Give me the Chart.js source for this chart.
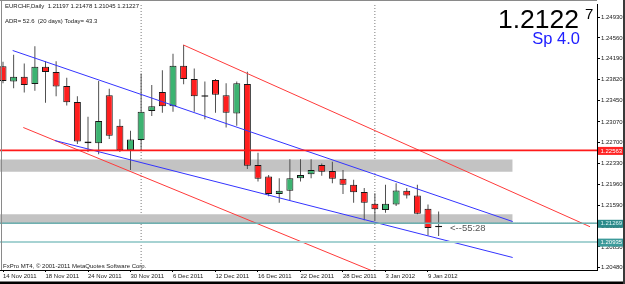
<!DOCTYPE html>
<html><head><meta charset="utf-8">
<script src="https://cdn.jsdelivr.net/npm/chart.js@4.4.1/dist/chart.umd.min.js"></script>
<style>html,body{margin:0;padding:0;background:#fff;}canvas{display:block;}</style>
</head><body>
<canvas id="c" width="625" height="284"></canvas>
<script>
// ---------------- data ----------------
const symbolName = 'EURCHF,Daily';
const dates = ['14 Nov 2011','15 Nov 2011','16 Nov 2011','17 Nov 2011','18 Nov 2011','21 Nov 2011','22 Nov 2011','23 Nov 2011','24 Nov 2011','25 Nov 2011','28 Nov 2011','29 Nov 2011','30 Nov 2011','1 Dec 2011','2 Dec 2011','5 Dec 2011','6 Dec 2011','7 Dec 2011','8 Dec 2011','9 Dec 2011','12 Dec 2011','13 Dec 2011','14 Dec 2011','15 Dec 2011','16 Dec 2011','19 Dec 2011','20 Dec 2011','21 Dec 2011','22 Dec 2011','23 Dec 2011','26 Dec 2011','27 Dec 2011','28 Dec 2011','29 Dec 2011','30 Dec 2011','2 Jan 2012','3 Jan 2012','4 Jan 2012','5 Jan 2012','6 Jan 2012','9 Jan 2012','10 Jan 2012'];
const opens  = [1.24057,1.23785,1.23872,1.23743,1.24047,1.23953,1.23708,1.23424,1.22721,1.22691,1.23541,1.23000,1.22564,1.22749,1.23262,1.23599,1.23349,1.24064,1.23831,1.23517,1.23813,1.23541,1.23220,1.23743,1.22302,1.22098,1.21789,1.21848,1.22068,1.22138,1.22302,1.22197,1.22058,1.21953,1.21824,1.21614,1.21504,1.21604,1.21848,1.21761,1.21527,1.21197];
const highs  = [1.24139,1.24262,1.24105,1.24413,1.24145,1.24145,1.23855,1.23523,1.23162,1.23796,1.23656,1.23115,1.22913,1.23930,1.23726,1.23988,1.24279,1.24436,1.24017,1.23785,1.23831,1.23756,1.23785,1.23960,1.22522,1.22127,1.22068,1.22407,1.22407,1.22407,1.22330,1.22360,1.22215,1.22040,1.21894,1.21801,1.21953,1.21981,1.21894,1.21953,1.21604,1.21478];
const lows   = [1.23756,1.23668,1.23593,1.23621,1.23407,1.23523,1.23359,1.22679,1.22534,1.22494,1.22766,1.22534,1.22215,1.22569,1.23174,1.23232,1.23250,1.23738,1.23250,1.23115,1.23232,1.22970,1.23000,1.22232,1.22010,1.21749,1.21632,1.21674,1.22010,1.22068,1.22115,1.21981,1.21789,1.21632,1.21325,1.21312,1.21457,1.21574,1.21709,1.21429,1.21051,1.21045];
const closes = [1.23796,1.23872,1.23726,1.24047,1.23953,1.23698,1.23419,1.22721,1.22691,1.23087,1.22825,1.22564,1.22756,1.23250,1.23349,1.23349,1.24064,1.23831,1.23523,1.23541,1.23551,1.23232,1.23756,1.22290,1.22058,1.21789,1.21848,1.22068,1.22127,1.22215,1.22185,1.22058,1.21953,1.21819,1.21632,1.21517,1.21614,1.21853,1.21761,1.21440,1.21185,1.21227];
const xTickIdx = [0,4,8,12,16,20,24,28,32,36,40];
const yTicks = [1.2493,1.2456,1.2419,1.2382,1.2345,1.2307,1.2270,1.2233,1.2196,1.2159,1.2122,1.2085,1.2048];
const xRange = [-0.2824, 55.906];
const yRange = [1.204399, 1.251516];
const separators = [13, 35];
const levelRed = 1.22563;
const levelTeal = 1.21269;
const levelLight = 1.20935;
const zoneUpper = [1.22403, 1.22185];
const zoneLower = [1.21429, 1.21265];
const zoneEnd = 47.97;
const blueUpper = [[0.91, 1.24337], [47.97, 1.21300]];
const blueLower = [[4.89, 1.22738], [47.97, 1.20662]];
const redUpper  = [[16.97, 1.24436], [55.25, 1.21208]];
const redLower  = [[1.91, 1.22970], [40, 1.20018]];
const adr = 52.6, adrDays = 20, adrToday = 43.3;
const spread = '4.0';
const countdown = '55:28';

// ---------------- chart ----------------
const FONT = '"Liberation Sans", Arial, sans-serif';
Chart.defaults.font.family = FONT;
const pts = a => a.map(p => ({x: p[0], y: p[1]}));
const hline = v => [{x: xRange[0] - 1, y: v}, {x: xRange[1] + 1, y: v}];
const lineDs = (data, color, width, extra) => Object.assign({
  type: 'line', data, borderColor: color, borderWidth: width, pointRadius: 0,
  fill: false, tension: 0, order: 0
}, extra || {});

const bodyColors = opens.map((o, i) => closes[i] >= o ? '#3cb371' : '#ff1e1e');

const datasets = [
  { type: 'bar', label: 'body', data: dates.map((d, i) => ({x: i, y: [opens[i], closes[i]]})),
    backgroundColor: bodyColors, borderColor: '#161616', borderWidth: 1, borderSkipped: false,
    grouped: false, maxBarThickness: 7, minBarLength: 1, order: 1 },
  { type: 'bar', label: 'wick', data: dates.map((d, i) => ({x: i, y: [lows[i], highs[i]]})),
    backgroundColor: '#505050', borderWidth: 0, grouped: false, maxBarThickness: 1, order: 2 },
  lineDs([{x: xRange[0] - 1, y: zoneUpper[0]}, {x: zoneEnd, y: zoneUpper[0]}], 'rgba(0,0,0,0)', 0, {order: 10}),
  lineDs([{x: xRange[0] - 1, y: zoneUpper[1]}, {x: zoneEnd, y: zoneUpper[1]}], 'rgba(0,0,0,0)', 0, {order: 10, fill: '-1', backgroundColor: '#c3c3c3'}),
  lineDs([{x: xRange[0] - 1, y: zoneLower[0]}, {x: zoneEnd, y: zoneLower[0]}], 'rgba(0,0,0,0)', 0, {order: 10}),
  lineDs([{x: xRange[0] - 1, y: zoneLower[1]}, {x: zoneEnd, y: zoneLower[1]}], 'rgba(0,0,0,0)', 0, {order: 10, fill: '-1', backgroundColor: '#c3c3c3'}),
  lineDs([{x: separators[0], y: yRange[0]}, {x: separators[0], y: yRange[1]}], '#7a7a7a', 1, {order: 20, borderDash: [1, 2]}),
  lineDs([{x: separators[1], y: yRange[0]}, {x: separators[1], y: yRange[1]}], '#7a7a7a', 1, {order: 20, borderDash: [1, 2]}),
  lineDs(hline(levelLight), '#a6d2d2', 2),
  lineDs(hline(levelTeal), '#6fb0b0', 1.5),
  lineDs(hline(levelTeal), '#0c6a6a', 1, {borderDash: [1, 1]}),
  lineDs(hline(levelRed), '#ff1a1a', 1.6),
  lineDs(pts(blueUpper), '#3434ff', 1),
  lineDs(pts(blueLower), '#3434ff', 1),
  lineDs(pts(redUpper), '#ff3a3a', 1),
  lineDs(pts(redLower), '#ff3a3a', 1)
];

const overlay = {
  id: 'overlay',
  afterDraw(chart) {
    const ctx = chart.ctx, ys = chart.scales.y;
    const n = closes.length - 1;
    ctx.save();
    ctx.textBaseline = 'middle';
    ctx.textAlign = 'left';
    ctx.fillStyle = '#1a1a1a';
    ctx.font = '6px ' + FONT;
    const f = v => v.toFixed(5);
    ctx.fillText(symbolName + '  ' + f(opens[n]) + ' ' + f(highs[n]) + ' ' + f(lows[n]) + ' ' + f(closes[n]), 5, 6.5);
    ctx.fillText('ADR= ' + adr.toFixed(1) + '  (' + adrDays + ' days) Today= ' + adrToday.toFixed(1), 5, 21);
    ctx.fillText('FxPro MT4, \u00a9 2001-2011 MetaQuotes Software Corp.', 3, 266);
    // big price
    const bid = f(closes[n]);
    ctx.textBaseline = 'alphabetic';
    ctx.fillStyle = '#000';
    ctx.textAlign = 'right';
    ctx.font = '26.5px ' + FONT;
    ctx.fillText(bid.slice(0, 6), 579, 27.5);
    ctx.textAlign = 'left';
    ctx.font = '15px ' + FONT;
    ctx.fillText(bid.slice(6), 585, 18.5);
    ctx.textAlign = 'right';
    ctx.fillStyle = '#2020ff';
    ctx.font = '16.5px ' + FONT;
    ctx.fillText('Sp ' + spread, 580, 44);
    // countdown
    ctx.textAlign = 'left';
    ctx.fillStyle = '#555';
    ctx.font = '9.5px ' + FONT;
    ctx.fillText('<--' + countdown, 450, 231);
    // price boxes on the axis
    const boxes = [[levelRed, '#ff2424', '#ffffff'], [levelTeal, '#2b8a8a', '#dff8f8'], [levelLight, '#3c9a9a', '#ffffff']];
    ctx.font = '6px ' + FONT;
    ctx.textBaseline = 'middle';
    boxes.forEach(b => {
      const y = ys.getPixelForValue(b[0]);
      ctx.fillStyle = b[1];
      ctx.fillRect(598, y - 3.5, 25, 8);
      ctx.fillStyle = b[2];
      ctx.fillText(b[0].toFixed(5), 600.5, y + 0.5);
    });
    // window frame
    ctx.fillStyle = '#000';
    ctx.fillRect(0, 281.5, 625, 2.5);
    ctx.fillStyle = '#3a3a3a';
    ctx.fillRect(623, 0, 2, 284);
    ctx.fillStyle = '#8a8a8a';
    ctx.fillRect(0, 0, 597, 1);
    ctx.fillRect(1, 0, 1, 270);
    ctx.restore();
  }
};

new Chart(document.getElementById('c'), {
  type: 'bar',
  data: { datasets },
  options: {
    responsive: false,
    animation: false,
    devicePixelRatio: 1,
    layout: { padding: 0 },
    plugins: { legend: { display: false }, tooltip: { enabled: false } },
    scales: {
      x: {
        type: 'linear', min: xRange[0], max: xRange[1], offset: false,
        afterBuildTicks: s => { s.ticks = xTickIdx.map(v => ({value: v})); },
        afterFit: s => { s.height = 14; },
        ticks: { align: 'start', autoSkip: false, maxRotation: 0, padding: 1, color: '#1a1a1a',
          font: { size: 6 }, callback: v => dates[v] },
        grid: { display: true, drawOnChartArea: false, drawTicks: true, tickLength: 2, color: '#000', offset: false },
        border: { display: true, color: '#000', width: 1 }
      },
      y: {
        type: 'linear', position: 'right', min: yRange[0], max: yRange[1],
        afterBuildTicks: s => { s.ticks = yTicks.map(v => ({value: v})); },
        afterFit: s => { s.width = 28; },
        ticks: { padding: 1, color: '#1a1a1a', font: { size: 6 }, callback: v => v.toFixed(5) },
        grid: { display: true, drawOnChartArea: false, drawTicks: true, tickLength: 3, color: '#000' },
        border: { display: true, color: '#000', width: 1 }
      }
    }
  },
  plugins: [overlay]
});
</script>
</body></html>
